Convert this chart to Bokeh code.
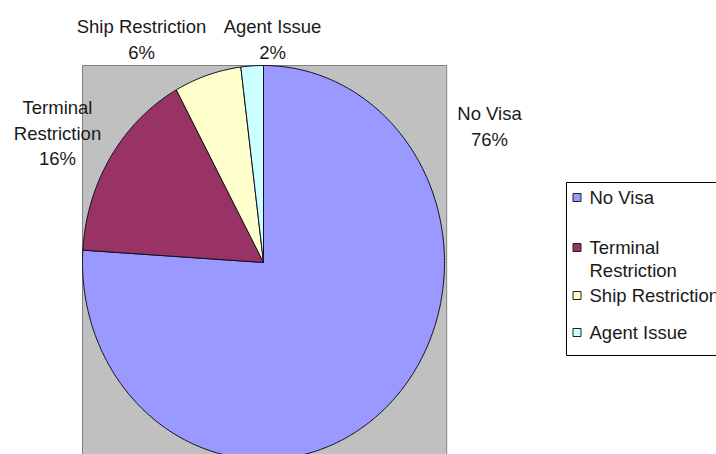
import numpy as np
from bokeh.plotting import figure
from bokeh.models import Range1d, ColumnDataSource
from bokeh.embed import file_html
from bokeh.resources import INLINE
from bokeh.core.properties import value

# ---- data ----
categories = ["No Visa", "Terminal Restriction", "Ship Restriction", "Agent Issue"]
percents = [76, 16, 6, 2]
colors = ["#9999FF", "#993366", "#FFFFCC", "#CCFFFF"]
label_lines = [["No Visa", "76%"], ["Terminal", "Restriction", "16%"],
               ["Ship Restriction", "6%"], ["Agent Issue", "2%"]]
legend_lines = [["No Visa"], ["Terminal", "Restriction"], ["Ship Restriction"], ["Agent Issue"]]

# ---- layout (pixels) ----
W, H = 716, 454
CX, CY = 263, 262
RX, RY = 181, 197
label_pos = [(489, 113), (57, 107), (141, 26), (272, 26)]
label_step = 25.5
legend_rows = [197, 247, 295, 332]
legend_step = 23
legend_box = (566, 182, 740, 355)
FONT = value("Liberation Sans")
FS = "18.5px"
TXT = "#1a1a1a"


def dx(px):
    return (px - CX) / RX


def dy(py):
    return (CY - py) / RY


p = figure(width=W, height=H, x_range=Range1d(dx(0), dx(W)), y_range=Range1d(dy(H), dy(0)),
           output_backend="svg", toolbar_location=None, min_border=0)
p.axis.visible = False
p.grid.visible = False
p.outline_line_color = None
p.background_fill_color = "white"
p.border_fill_color = "white"

# plot area
p.quad(left=[-1.0], right=[1.012], bottom=[-1.3], top=[1.0],
       fill_color="#C0C0C0", line_color="#808080", line_width=1)

# pie slices (clockwise from 12 o'clock)
frac = np.array(percents, dtype=float) / sum(percents)
cum = np.concatenate([[0], np.cumsum(frac)])
xs, ys = [], []
for i in range(len(percents)):
    n = max(4, int(400 * frac[i]))
    t = np.linspace(cum[i], cum[i + 1], n) * 2 * np.pi
    xs.append([0.0] + list(np.sin(t)) + [0.0])
    ys.append([0.0] + list(np.cos(t)) + [0.0])
p.patches(xs=xs, ys=ys, fill_color=colors, line_color="#101020", line_width=1)

# data labels
tx, ty, tt = [], [], []
for (px, py), lines in zip(label_pos, label_lines):
    for k, s in enumerate(lines):
        tx.append(dx(px)); ty.append(dy(py + k * label_step)); tt.append(s)
p.text(x=tx, y=ty, text=tt, text_font=FONT, text_font_size=FS, text_color=TXT,
       text_align="center", text_baseline="middle")

# legend
l, t, r, b = legend_box
p.quad(left=[dx(l)], right=[dx(r)], top=[dy(t)], bottom=[dy(b)],
       fill_color="white", line_color="black", line_width=1)
p.scatter(x=[dx(576.5)] * 4, y=[dy(yy) for yy in legend_rows], marker="square", size=8,
          fill_color=colors, line_color="#202020", line_width=1)
lx, ly, lt = [], [], []
for yy, lines in zip(legend_rows, legend_lines):
    for k, s in enumerate(lines):
        lx.append(dx(589)); ly.append(dy(yy + k * legend_step)); lt.append(s)
p.text(x=lx, y=ly, text=lt, text_font=FONT, text_font_size=FS, text_color=TXT,
       text_align="left", text_baseline="middle")

open("out.html", "w").write(file_html(p, INLINE))
